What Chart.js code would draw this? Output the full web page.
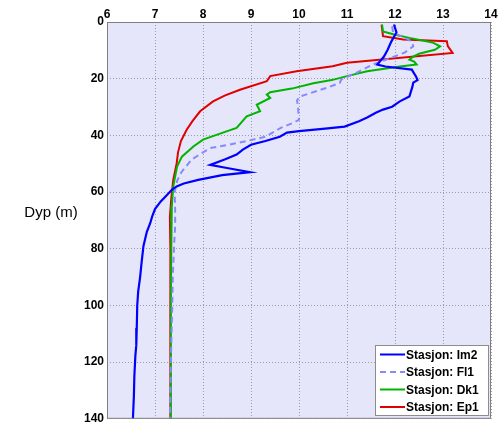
<!DOCTYPE html>
<html>
<head>
<meta charset="utf-8">
<script src="https://cdn.jsdelivr.net/npm/chart.js@4.4.1/dist/chart.umd.min.js"></script>
<style>
  html, body { margin: 0; padding: 0; background: #fff; }
  #wrap { width: 504px; height: 429px; position: relative; }
</style>
</head>
<body>
<div id="wrap"><canvas id="chart-dyp" width="504" height="429"></canvas></div>
<script>
// Stasjon Im2 (dyp i m, verdi)
const depthIm2 = [0.9, 3.7, 7, 9.7, 12.2, 14, 15, 15.7, 16.8, 19.3, 20.5, 21.4, 23, 26.3, 28, 29.9, 30.9, 32, 33.7, 35, 36.9, 37.5, 38.5, 39, 40.5, 42, 43.3, 45, 46.8, 48.5, 50.4, 51.5, 53, 54, 55.7, 57, 58, 59.2, 61, 63.3, 66, 68.7, 71, 74, 79, 85, 90, 95, 100, 108, 114, 118, 125, 132, 140];
const valIm2 = [11.98, 12.03, 11.92, 11.85, 11.77, 11.68, 11.63, 11.8, 12.35, 12.44, 12.47, 12.38, 12.36, 12.3, 12.1, 11.94, 11.75, 11.6, 11.42, 11.25, 10.95, 10.6, 10.0, 9.75, 9.6, 9.3, 9.0, 8.83, 8.7, 8.45, 8.15, 8.5, 8.98, 8.4, 7.9, 7.6, 7.45, 7.35, 7.25, 7.12, 7.0, 6.94, 6.9, 6.83, 6.76, 6.72, 6.69, 6.65, 6.63, 6.62, 6.61, 6.59, 6.57, 6.56, 6.54];

// Stasjon Fl1
const depthFl1 = [1.5, 3.8, 5.5, 6.9, 8.6, 10.8, 13.2, 15, 17.9, 20.3, 21.5, 23.2, 26.3, 27.6, 30.2, 34.5, 35.6, 37.2, 40.5, 42.6, 44.5, 46.5, 48.6, 53, 56, 60.2, 66, 72, 78, 90, 100, 120, 140];
const valFl1 = [11.94, 11.96, 12.2, 12.35, 12.38, 12.2, 11.83, 11.54, 11.2, 10.88, 10.85, 10.58, 10.02, 9.96, 9.98, 10.0, 9.88, 9.64, 9.3, 8.75, 8.15, 7.95, 7.76, 7.55, 7.46, 7.41, 7.42, 7.42, 7.4, 7.37, 7.36, 7.33, 7.31];

// Stasjon Dk1
const depthDk1 = [0.9, 3.3, 4.4, 5.6, 7.2, 8.6, 9.8, 11.2, 12.3, 13.3, 14, 15, 15.7, 17.4, 19.1, 20.5, 21.6, 23.5, 24.8, 25.6, 26.8, 29.2, 31.5, 33.3, 37.4, 38.6, 41.5, 43.9, 47.5, 51, 58, 65, 80, 100, 120, 140];
const valDk1 = [11.73, 11.75, 11.98, 12.3, 12.78, 12.94, 12.83, 12.5, 12.37, 12.3, 12.4, 12.45, 12.1, 11.42, 11.0, 10.68, 10.3, 9.85, 9.4, 9.33, 9.4, 9.12, 9.19, 8.91, 8.7, 8.49, 8.0, 7.8, 7.56, 7.46, 7.38, 7.35, 7.34, 7.33, 7.33, 7.33];

// Stasjon Ep1
const depthEp1 = [0.9, 5.0, 6.2, 6.8, 8.5, 10.9, 14.4, 15.6, 17.4, 19.1, 20.9, 23.9, 26, 28, 31.5, 35, 38, 42, 46, 50, 55.7, 62, 68.7, 80, 100, 120, 140];
const valEp1 = [11.72, 11.75, 12.17, 13.08, 13.1, 13.2, 11.0, 10.7, 9.95, 9.4, 9.33, 8.77, 8.45, 8.21, 7.94, 7.78, 7.66, 7.54, 7.48, 7.45, 7.38, 7.34, 7.31, 7.32, 7.32, 7.32, 7.32];

const xTicks = [6, 7, 8, 9, 10, 11, 12, 13, 14];
const yTicks = [0, 20, 40, 60, 80, 100, 120, 140];

function toPoints(depth, vals) {
  return depth.map((d, i) => ({ x: vals[i], y: d }));
}

const fontBold = { family: "'Liberation Sans', Arial, sans-serif", size: 12, weight: "bold" };

// bakgrunn, ramme, y-tittel og legende
const boxPlugin = {
  id: "boxPlugin",
  beforeDraw(chart) {
    const a = chart.chartArea;
    const c = chart.ctx;
    c.save();
    c.fillStyle = "#e6e6fa";
    c.fillRect(a.left, a.top, a.right - a.left, a.bottom - a.top);
    c.restore();
  },
  afterDraw(chart) {
    const a = chart.chartArea;
    const c = chart.ctx;
    c.save();
    c.strokeStyle = "#7f7f7f";
    c.lineWidth = 1;
    c.setLineDash([]);
    c.strokeRect(a.left + 0.5, a.top + 0.5, a.right - a.left - 1, a.bottom - a.top - 1);

    // y-tittel
    c.fillStyle = "#000";
    c.font = "15px 'Liberation Sans', Arial, sans-serif";
    c.textAlign = "center";
    c.textBaseline = "middle";
    c.fillText("Dyp (m)", 51, 213);

    // legende
    const lx = 375, ly = 345, lw = 113, lh = 70;
    c.fillStyle = "#fff";
    c.fillRect(lx, ly, lw, lh);
    c.strokeStyle = "#8c8c8c";
    c.strokeRect(lx + 0.5, ly + 0.5, lw, lh);
    c.font = "bold 12px 'Liberation Sans', Arial, sans-serif";
    c.textAlign = "left";
    chart.data.datasets.forEach((ds, i) => {
      const y = ly + 9.5 + i * 17.5;
      c.strokeStyle = ds.borderColor;
      c.lineWidth = 2;
      c.setLineDash(ds.borderDash || []);
      c.beginPath();
      c.moveTo(lx + 5, y);
      c.lineTo(lx + 30, y);
      c.stroke();
      c.fillStyle = "#000";
      c.fillText(ds.label, lx + 31, y + 1);
    });
    c.restore();
  }
};

const ctx = document.getElementById("chart-dyp").getContext("2d");
let myChart = new Chart(ctx, {
  type: "scatter",
  data: {
    datasets: [
      {
        label: "Stasjon: Im2",
        data: toPoints(depthIm2, valIm2),
        borderColor: "#0000ff",
        borderWidth: 2.2,
        showLine: true,
        pointRadius: 0,
      },
      {
        label: "Stasjon: Fl1",
        data: toPoints(depthFl1, valFl1),
        borderColor: "#8888ff",
        borderWidth: 2,
        borderDash: [6, 4],
        showLine: true,
        pointRadius: 0,
      },
      {
        label: "Stasjon: Dk1",
        data: toPoints(depthDk1, valDk1),
        borderColor: "#00b400",
        borderWidth: 2,
        showLine: true,
        pointRadius: 0,
      },
      {
        label: "Stasjon: Ep1",
        data: toPoints(depthEp1, valEp1),
        borderColor: "#e00000",
        borderWidth: 2,
        showLine: true,
        pointRadius: 0,
      }
    ],
  },
  options: {
    responsive: false,
    animation: false,
    devicePixelRatio: 1,
    layout: { padding: { left: 0, top: 0, right: 13, bottom: 10 } },
    plugins: {
      legend: { display: false },
      tooltip: { enabled: false },
    },
    scales: {
      x: {
        type: "linear",
        position: "top",
        min: 6,
        max: 14,
        afterBuildTicks(scale) { scale.ticks = xTicks.map(v => ({ value: v })); },
        afterFit(scale) { scale.height = 22; },
        ticks: { color: "#000", font: fontBold, padding: 0, maxRotation: 0, autoSkip: false },
        grid: { color: "#9a9aaa", drawTicks: false },
        border: { display: false, dash: [1, 2] },
      },
      y: {
        type: "linear",
        reverse: true,
        min: 0,
        max: 140,
        afterBuildTicks(scale) { scale.ticks = yTicks.map(v => ({ value: v })); },
        afterFit(scale) { scale.width = 107; },
        ticks: { color: "#000", font: fontBold, padding: 3, autoSkip: false },
        grid: { color: "#9a9aaa", drawTicks: false },
        border: { display: false, dash: [1, 2] },
      },
    },
  },
  plugins: [boxPlugin],
});
</script>
</body>
</html>
